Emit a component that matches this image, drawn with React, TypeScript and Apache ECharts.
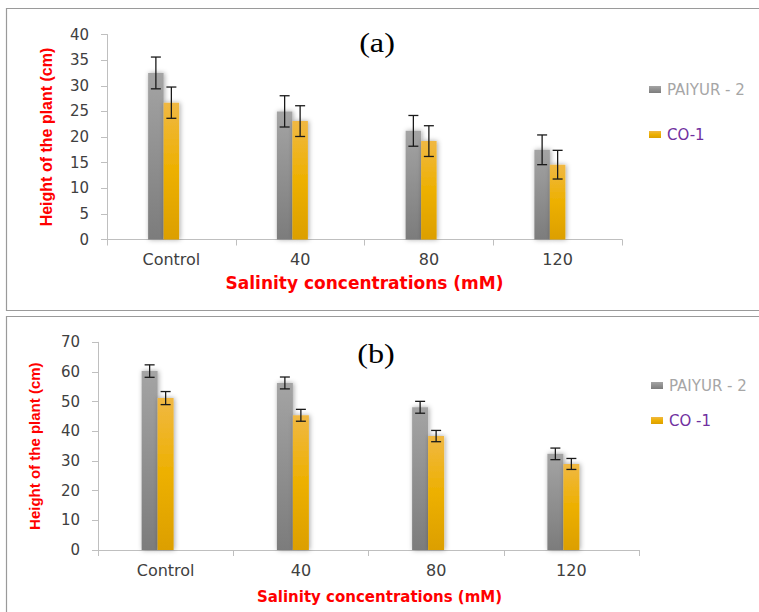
import React, { useEffect, useRef } from "react";
import * as echarts from "echarts";

const categories = ["Control", "40", "80", "120"];

const heightA_paiyur = [32.5, 25.0, 21.2, 17.5];
const errA_paiyur = [3.1, 3.05, 3.0, 2.9];
const heightA_co1 = [26.7, 23.1, 19.2, 14.6];
const errA_co1 = [3.05, 3.0, 3.0, 2.8];

const heightB_paiyur = [60.3, 56.3, 48.1, 32.4];
const errB_paiyur = [2.1, 2.0, 2.0, 1.95];
const heightB_co1 = [51.2, 45.4, 38.4, 29.0];
const errB_co1 = [2.2, 2.0, 1.9, 1.85];

const BAR_W = 15.5;
const BAR_W_B = 16;

const grayGrad = () =>
  new echarts.graphic.LinearGradient(0, 0, 0, 1, [
    { offset: 0, color: "#a4a4a4" },
    { offset: 1, color: "#7c7c7c" },
  ]);
const orangeGrad = () =>
  new echarts.graphic.LinearGradient(0, 0, 0, 1, [
    { offset: 0, color: "#f0b843" },
    { offset: 0.5, color: "#edb000" },
    { offset: 1, color: "#dc9f00" },
  ]);

const barStyle = (color: any) => ({
  color,
  shadowBlur: 5,
  shadowColor: "rgba(0,0,0,0.35)",
  shadowOffsetX: 1,
});

function errSeries(
  name: string,
  values: number[],
  errs: number[],
  offset: number,
  axisIndex: number
) {
  return {
    type: "custom",
    name,
    xAxisIndex: axisIndex,
    yAxisIndex: axisIndex,
    z: 5,
    data: values.map((v, i) => [i, v, errs[i]]),
    renderItem: (params: any, api: any) => {
      const i = api.value(0);
      const v = api.value(1);
      const e = api.value(2);
      const top = api.coord([i, v + e]);
      const bot = api.coord([i, v - e]);
      const x = top[0] + offset;
      const cap = 5;
      const st = { stroke: "#1a1a1a", lineWidth: 1.3 };
      return {
        type: "group",
        children: [
          { type: "line", shape: { x1: x, y1: top[1], x2: x, y2: bot[1] }, style: st },
          { type: "line", shape: { x1: x - cap, y1: top[1], x2: x + cap, y2: top[1] }, style: st },
          { type: "line", shape: { x1: x - cap, y1: bot[1], x2: x + cap, y2: bot[1] }, style: st },
        ],
      };
    },
  };
}

const axisLabelStyle = { color: "#404040", fontFamily: "DejaVu Sans", fontSize: 15 };
const axisLineStyle = { lineStyle: { color: "#bfbfbf", width: 1 } };

const legendBase = {
  orient: "vertical",
  icon: "rect",
  padding: 0,
  itemWidth: 12,
  itemHeight: 7,
  selectedMode: false,
  itemStyle: { shadowBlur: 0, shadowColor: "transparent" },
  textStyle: { fontFamily: "DejaVu Sans", fontSize: 15, lineHeight: 14, padding: [0, 0, 0, 1] },
};

export default function App() {
  const ref = useRef<HTMLDivElement>(null);
  useEffect(() => {
    if (!ref.current) return;
    const chart = echarts.init(ref.current, null, { renderer: "svg" });
    const option: any = {
      animation: false,
      backgroundColor: "#ffffff",
      grid: [
        { left: 107, top: 34.5, width: 515, height: 205 },
        { left: 98, top: 342.3, width: 541, height: 207.7 },
      ],
      legend: [
        {
          ...legendBase,
          left: 649,
          top: 82,
          itemGap: 30,
          data: [
            { name: "PAIYUR - 2", textStyle: { color: "#a6a6a6" } },
            { name: "CO-1", textStyle: { color: "#7030a0" } },
          ],
        },
        {
          ...legendBase,
          left: 651,
          top: 378,
          itemGap: 20,
          data: [
            { name: "PAIYUR - 2", textStyle: { color: "#a6a6a6" } },
            { name: "CO -1", textStyle: { color: "#7030a0" } },
          ],
        },
      ],
      xAxis: [0, 1].map((gi) => ({
        type: "category",
        gridIndex: gi,
        data: categories,
        axisLine: axisLineStyle,
        axisTick: { show: true, length: 6, lineStyle: { color: "#bfbfbf" } },
        axisLabel: { ...axisLabelStyle, fontSize: 16, margin: 12 },
        name: "Salinity concentrations (mM)",
        nameLocation: "middle",
        nameGap: gi === 0 ? 35 : 39,
        nameTextStyle:
          gi === 0
            ? { color: "#ff0000", fontFamily: "DejaVu Sans", fontWeight: "bold", fontSize: 17 }
            : {
                color: "#ff0000",
                fontFamily: "DejaVu Sans",
                fontWeight: "bold",
                fontSize: 15,
                padding: [0, 0, 0, 22],
              },
      })),
      yAxis: [
        {
          type: "value",
          gridIndex: 0,
          min: 0,
          max: 40,
          interval: 5,
          axisLine: { show: true, ...axisLineStyle },
          axisTick: { show: true, length: 6, lineStyle: { color: "#bfbfbf" } },
          splitLine: { show: false },
          axisLabel: { ...axisLabelStyle, margin: 18 },
          name: "Height of the plant (cm)",
          nameLocation: "middle",
          nameRotate: 90,
          nameGap: 53,
          nameTextStyle: {
            color: "#ff0000",
            fontFamily: "Liberation Sans",
            fontWeight: "bold",
            fontSize: 16,
          },
        },
        {
          type: "value",
          gridIndex: 1,
          min: 0,
          max: 70,
          interval: 10,
          axisLine: { show: true, ...axisLineStyle },
          axisTick: { show: true, length: 6, lineStyle: { color: "#bfbfbf" } },
          splitLine: { show: false },
          axisLabel: { ...axisLabelStyle, margin: 18 },
          name: "Height of the plant (cm)",
          nameLocation: "middle",
          nameRotate: 90,
          nameGap: 56,
          nameTextStyle: {
            color: "#ff0000",
            fontFamily: "Liberation Sans",
            fontWeight: "bold",
            fontSize: 15,
          },
        },
      ],
      series: [
        {
          type: "bar",
          name: "PAIYUR - 2",
          xAxisIndex: 0,
          yAxisIndex: 0,
          data: heightA_paiyur,
          barWidth: BAR_W,
          barGap: "0%",
          itemStyle: barStyle(grayGrad()),
        },
        {
          type: "bar",
          name: "CO-1",
          xAxisIndex: 0,
          yAxisIndex: 0,
          data: heightA_co1,
          barWidth: BAR_W,
          barGap: "0%",
          itemStyle: barStyle(orangeGrad()),
        },
        {
          type: "bar",
          name: "_spacerA",
          xAxisIndex: 0,
          yAxisIndex: 0,
          data: [null, null, null, null],
          barWidth: BAR_W,
          barGap: "0%",
        },
        {
          type: "bar",
          name: "PAIYUR - 2",
          xAxisIndex: 1,
          yAxisIndex: 1,
          data: heightB_paiyur,
          barWidth: BAR_W_B,
          barGap: "0%",
          itemStyle: barStyle(grayGrad()),
        },
        {
          type: "bar",
          name: "CO -1",
          xAxisIndex: 1,
          yAxisIndex: 1,
          data: heightB_co1,
          barWidth: BAR_W_B,
          barGap: "0%",
          itemStyle: barStyle(orangeGrad()),
        },
        {
          type: "bar",
          name: "_spacerB",
          xAxisIndex: 1,
          yAxisIndex: 1,
          data: [null, null, null, null],
          barWidth: BAR_W_B,
          barGap: "0%",
        },
        errSeries("errA1", heightA_paiyur, errA_paiyur, -BAR_W, 0),
        errSeries("errA2", heightA_co1, errA_co1, 0, 0),
        errSeries("errB1", heightB_paiyur, errB_paiyur, -BAR_W_B, 1),
        errSeries("errB2", heightB_co1, errB_co1, 0, 1),
      ],
      graphic: [
        {
          type: "rect",
          shape: { x: 6.5, y: 8.5, width: 800, height: 302 },
          style: { fill: "none", stroke: "#9a9a9a", lineWidth: 1.2 },
          z: -1,
        },
        {
          type: "rect",
          shape: { x: 6.5, y: 316.5, width: 800, height: 400 },
          style: { fill: "none", stroke: "#9a9a9a", lineWidth: 1.2 },
          z: -1,
        },
        {
          type: "text",
          x: 377,
          y: 43,
          scaleX: 1.15,
          style: {
            text: "(a)",
            fontFamily: "Liberation Serif",
            fontSize: 28,
            fill: "#000000",
            align: "center",
            verticalAlign: "middle",
          },
        },
        {
          type: "text",
          x: 376,
          y: 354,
          scaleX: 1.15,
          style: {
            text: "(b)",
            fontFamily: "Liberation Serif",
            fontSize: 28,
            fill: "#000000",
            align: "center",
            verticalAlign: "middle",
          },
        },
      ],
    };
    chart.setOption(option);
    return () => chart.dispose();
  }, []);
  return (
    <div
      ref={ref}
      style={{ position: "fixed", left: 0, top: 0, width: 759, height: 612, background: "#fff" }}
    />
  );
}
